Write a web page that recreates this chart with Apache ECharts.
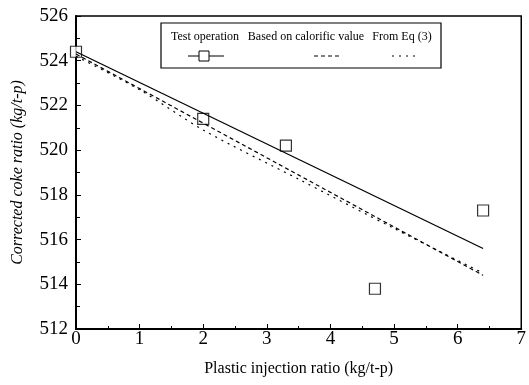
<!DOCTYPE html>
<html>
<head>
<meta charset="utf-8">
<script src="https://cdn.jsdelivr.net/npm/echarts@6/dist/echarts.min.js"></script>
<style>
html,body{margin:0;padding:0;background:#fff;}
#c{width:529px;height:385px;}
</style>
</head>
<body>
<div id="c"></div>
<script>
// Data
var testX = [0, 2, 3.3, 4.7, 6.4];
var testY = [524.4, 521.4, 520.2, 513.8, 517.3];
var fitX = [0, 6.4];
var fitY = [524.4, 515.6];
var calorificX = [0, 6.4];
var calorificY = [524.3, 514.4];
var eq3X = [0, 1, 2, 3.5, 5, 6.4];
var eq3Y = [524.2, 522.7, 520.9, 518.7, 516.5, 514.5];
var xTicks = [0, 1, 2, 3, 4, 5, 6, 7];
var yTicks = [512, 514, 516, 518, 520, 522, 524, 526];
var legendNames = ['Test operation', 'Based on calorific value', 'From Eq (3)'];

function pairs(xs, ys) { return xs.map(function (x, i) { return [x, ys[i]]; }); }

var font = 'Liberation Serif';
var chart = echarts.init(document.getElementById('c'), null, {renderer: 'canvas'});
var option = {
  animation: false,
  backgroundColor: '#fff',
  grid: {left: 76, right: 3, top: 16, bottom: 56, show: true, borderColor: '#000', borderWidth: 1.5, backgroundColor: 'transparent'},
  xAxis: {
    type: 'value', min: xTicks[0], max: xTicks[xTicks.length - 1], interval: 1,
    name: 'Plastic injection ratio (kg/t-p)', nameLocation: 'middle', nameGap: 32,
    nameTextStyle: {fontFamily: font, fontSize: 16, color: '#000'},
    axisLine: {lineStyle: {color: '#000', width: 2}},
    axisTick: {inside: true, length: 5, lineStyle: {color: '#000'}},
    minorTick: {show: true, splitNumber: 2, length: 3, lineStyle: {color: '#000'}},
    axisLabel: {fontFamily: font, fontSize: 19, color: '#000', margin: 1},
    splitLine: {show: false}
  },
  yAxis: {
    type: 'value', min: yTicks[0], max: yTicks[yTicks.length - 1], interval: 2,
    name: 'Corrected coke ratio (kg/t-p)', nameLocation: 'middle', nameGap: 50,
    nameTextStyle: {fontFamily: font, fontSize: 16, color: '#000', fontStyle: 'italic'},
    axisLine: {lineStyle: {color: '#000', width: 2}},
    axisTick: {inside: true, length: 5, lineStyle: {color: '#000'}},
    minorTick: {show: true, splitNumber: 2, length: 4, lineStyle: {color: '#000'}},
    axisLabel: {fontFamily: font, fontSize: 19, color: '#000', margin: 8},
    splitLine: {show: false}
  },
  series: [
    {name: legendNames[0] + ' fit', type: 'line', data: pairs(fitX, fitY), showSymbol: false,
     lineStyle: {color: '#000', width: 1.3}},
    {name: legendNames[1], type: 'line', data: pairs(calorificX, calorificY), showSymbol: false,
     lineStyle: {color: '#000', width: 1.2, type: [4, 3]}},
    {name: legendNames[2], type: 'line', data: pairs(eq3X, eq3Y), showSymbol: false, smooth: 0.3,
     lineStyle: {color: '#000', width: 1.2, type: [2, 5]}},
    {name: legendNames[0], type: 'scatter', data: pairs(testX, testY), symbol: 'rect', symbolSize: 11,
     itemStyle: {color: '#fff', borderColor: '#000', borderWidth: 1.2}}
  ],
  graphic: [
    {type: 'rect', shape: {x: 161, y: 23, width: 280, height: 45}, style: {fill: '#fff', stroke: '#000', lineWidth: 1.2}, z: 10},
    {type: 'text', x: 205, y: 37, style: {text: legendNames[0], font: '12px "Liberation Serif"', fill: '#000', textAlign: 'center', textVerticalAlign: 'middle'}, z: 11},
    {type: 'text', x: 306, y: 37, style: {text: legendNames[1], font: '12px "Liberation Serif"', fill: '#000', textAlign: 'center', textVerticalAlign: 'middle'}, z: 11},
    {type: 'text', x: 402, y: 37, style: {text: legendNames[2], font: '12px "Liberation Serif"', fill: '#000', textAlign: 'center', textVerticalAlign: 'middle'}, z: 11},
    {type: 'line', shape: {x1: 188, y1: 56, x2: 224, y2: 56}, style: {stroke: '#000', lineWidth: 1.2}, z: 11},
    {type: 'rect', shape: {x: 199, y: 51, width: 10, height: 10}, style: {fill: '#fff', stroke: '#000', lineWidth: 1}, z: 12},
    {type: 'line', shape: {x1: 314, y1: 56, x2: 342, y2: 56}, style: {stroke: '#000', lineWidth: 1, lineDash: [4, 3]}, z: 11},
    {type: 'line', shape: {x1: 392, y1: 56, x2: 417, y2: 56}, style: {stroke: '#000', lineWidth: 1, lineDash: [2, 5]}, z: 11}
  ]
};
chart.setOption(option);
</script>
</body>
</html>
